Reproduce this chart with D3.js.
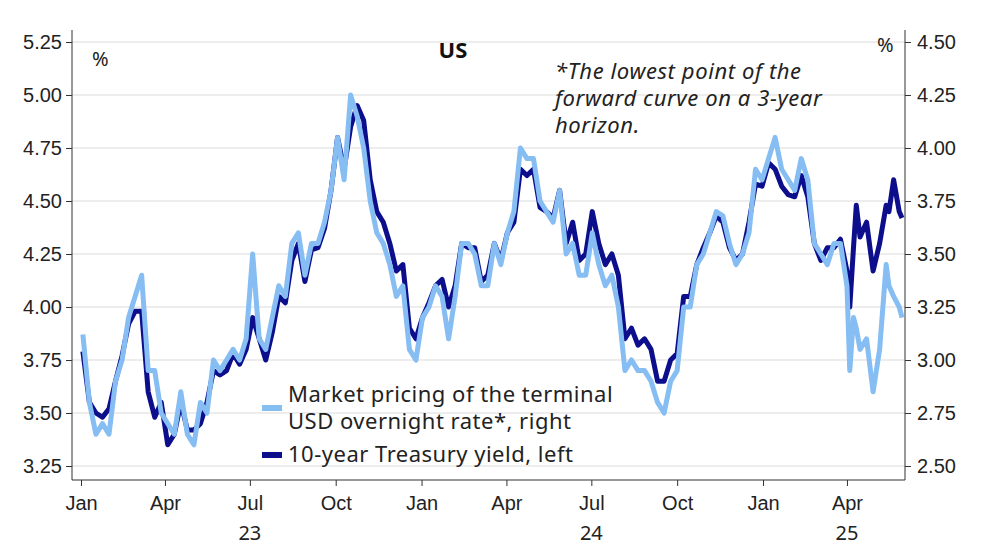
<!DOCTYPE html>
<html><head><meta charset="utf-8">
<script src="https://cdn.jsdelivr.net/npm/d3@7"></script>
<style>body{margin:0;background:#fff}svg{font-family:"Noto Sans",sans-serif}</style>
</head><body><svg id="c" width="1000" height="545"></svg>
<script>
// weekly dates
var dates = ["2023-01-03","2023-01-10","2023-01-17","2023-01-24","2023-01-31","2023-02-07","2023-02-14","2023-02-21","2023-02-28","2023-03-07","2023-03-14","2023-03-21","2023-03-28","2023-04-04","2023-04-11","2023-04-18","2023-04-25","2023-05-02","2023-05-09","2023-05-16","2023-05-23","2023-05-30","2023-06-06","2023-06-13","2023-06-20","2023-06-27","2023-07-04","2023-07-11","2023-07-18","2023-07-25","2023-08-01","2023-08-08","2023-08-15","2023-08-22","2023-08-29","2023-09-05","2023-09-12","2023-09-19","2023-09-26","2023-10-03","2023-10-10","2023-10-17","2023-10-24","2023-10-31","2023-11-07","2023-11-14","2023-11-21","2023-11-28","2023-12-05","2023-12-12","2023-12-19","2023-12-26",
"2024-01-02","2024-01-09","2024-01-16","2024-01-23","2024-01-30","2024-02-06","2024-02-13","2024-02-20","2024-02-27","2024-03-05","2024-03-12","2024-03-19","2024-03-26","2024-04-02","2024-04-09","2024-04-16","2024-04-23","2024-04-30","2024-05-07","2024-05-14","2024-05-21","2024-05-28","2024-06-04","2024-06-11","2024-06-18","2024-06-25","2024-07-02","2024-07-09","2024-07-16","2024-07-23","2024-07-30","2024-08-06","2024-08-13","2024-08-20","2024-08-27","2024-09-03","2024-09-10","2024-09-17","2024-09-24","2024-10-01","2024-10-08","2024-10-15","2024-10-22","2024-10-29","2024-11-05","2024-11-12","2024-11-19","2024-11-26","2024-12-03","2024-12-10","2024-12-17","2024-12-24","2024-12-31",
"2025-01-07","2025-01-14","2025-01-21","2025-01-28","2025-02-04","2025-02-11","2025-02-18","2025-02-25","2025-03-04","2025-03-11","2025-03-18","2025-03-25","2025-04-01","2025-04-04","2025-04-08","2025-04-11","2025-04-15","2025-04-22","2025-04-29","2025-05-06","2025-05-13","2025-05-16","2025-05-21","2025-05-27","2025-05-30"];

// 10-year Treasury yield, left axis
var yield10 = [3.79,3.55,3.50,3.48,3.52,3.65,3.77,3.92,3.98,3.98,3.60,3.48,3.55,3.35,3.40,3.55,3.42,3.42,3.45,3.55,3.70,3.68,3.70,3.78,3.73,3.80,3.95,3.85,3.75,3.88,4.05,4.02,4.22,4.30,4.12,4.27,4.28,4.37,4.55,4.80,4.65,4.85,4.95,4.88,4.60,4.45,4.40,4.30,4.17,4.20,3.90,3.85,
3.95,4.02,4.10,4.13,4.00,4.10,4.30,4.28,4.28,4.12,4.15,4.30,4.22,4.35,4.40,4.65,4.62,4.65,4.47,4.45,4.42,4.55,4.30,4.40,4.22,4.25,4.45,4.30,4.20,4.25,4.15,3.85,3.90,3.82,3.85,3.80,3.65,3.65,3.75,3.78,4.05,4.05,4.20,4.28,4.35,4.43,4.40,4.28,4.22,4.25,4.40,4.58,4.57,
4.68,4.65,4.57,4.53,4.52,4.62,4.52,4.30,4.22,4.28,4.28,4.32,4.17,4.00,4.28,4.48,4.33,4.40,4.17,4.30,4.48,4.45,4.60,4.45,4.42];

// market pricing of terminal USD overnight rate, right axis
var terminal = [3.12,2.80,2.65,2.70,2.65,2.90,3.00,3.20,3.30,3.40,2.95,2.95,2.75,2.70,2.65,2.85,2.65,2.60,2.80,2.75,3.00,2.95,3.00,3.05,3.00,3.10,3.50,3.10,3.05,3.20,3.35,3.30,3.55,3.60,3.40,3.55,3.55,3.65,3.80,4.05,3.85,4.25,4.15,4.00,3.75,3.60,3.55,3.45,3.30,3.35,3.05,3.00,
3.20,3.25,3.35,3.30,3.10,3.30,3.55,3.55,3.50,3.35,3.35,3.55,3.45,3.60,3.70,4.00,3.95,3.95,3.75,3.70,3.65,3.80,3.50,3.55,3.40,3.40,3.60,3.45,3.35,3.40,3.25,2.95,3.00,2.95,2.95,2.90,2.80,2.75,2.90,2.95,3.25,3.25,3.45,3.50,3.60,3.70,3.68,3.55,3.45,3.50,3.60,3.90,3.85,
3.95,4.05,3.90,3.85,3.80,3.95,3.85,3.55,3.50,3.45,3.55,3.55,3.35,2.95,3.20,3.15,3.05,3.10,2.85,3.05,3.45,3.35,3.30,3.25,3.20];

var leftTicks = [3.25,3.50,3.75,4.00,4.25,4.50,4.75,5.00,5.25];
var rightTicks = [2.50,2.75,3.00,3.25,3.50,3.75,4.00,4.25,4.50];
var monthTicks = ["2023-01-01","2023-04-01","2023-07-01","2023-10-01","2024-01-01","2024-04-01","2024-07-01","2024-10-01","2025-01-01","2025-04-01"];
var monthLabels = ["Jan","Apr","Jul","Oct","Jan","Apr","Jul","Oct","Jan","Apr"];
var yearLabels = {"2023-07-01":"23","2024-07-01":"24","2025-04-01":"25"};

var parse = d3.timeParse("%Y-%m-%d");
var svg = d3.select("#c");
var L = 72, R = 905, T = 30, B = 480;

var x = d3.scaleTime().domain([parse("2023-01-01"), parse("2025-01-01")]).range([81, 763]);
var yL = d3.scaleLinear().domain([3.25, 5.25]).range([466, 42]);
var yR = d3.scaleLinear().domain([2.50, 4.50]).range([466, 42]);

// grid
svg.append("g").selectAll("line").data(leftTicks).enter().append("line")
  .attr("x1", L).attr("x2", R).attr("y1", d => yL(d)).attr("y2", d => yL(d))
  .attr("stroke", "#dcdcdc").attr("stroke-width", 1.2);

var axL = svg.append("g").attr("transform", "translate(" + L + ",0)")
  .call(d3.axisLeft(yL).tickValues(leftTicks).tickFormat(d3.format(".2f")).tickSize(6).tickPadding(4));
var axR = svg.append("g").attr("transform", "translate(" + R + ",0)")
  .call(d3.axisRight(yR).tickValues(rightTicks).tickFormat(d3.format(".2f")).tickSize(6).tickPadding(6));
var axB = svg.append("g").attr("transform", "translate(0," + B + ")")
  .call(d3.axisBottom(x).tickValues(monthTicks.map(parse)).tickFormat((d, i) => monthLabels[i]).tickSize(6).tickPadding(6));
[axL, axR, axB].forEach(function(a){
  a.select(".domain").remove();
  a.selectAll("text").attr("font-size", 20).attr("fill", "#222");
  a.selectAll("line").attr("stroke", "#333");
});
axB.selectAll("text").attr("dy", "0.9em");
svg.append("line").attr("x1", L).attr("x2", L).attr("y1", T).attr("y2", B).attr("stroke", "#333");
svg.append("line").attr("x1", R).attr("x2", R).attr("y1", T).attr("y2", B).attr("stroke", "#333");
svg.append("line").attr("x1", L).attr("x2", R).attr("y1", B).attr("y2", B).attr("stroke", "#333");

Object.keys(yearLabels).forEach(function(k){
  svg.append("text").attr("x", x(parse(k))).attr("y", 540).attr("text-anchor", "middle")
    .attr("font-size", 20).attr("fill", "#222").text(yearLabels[k]);
});

var pts = dates.map((d, i) => ({t: parse(d), a: yield10[i], b: terminal[i]}));
var lineA = d3.line().x(d => x(d.t)).y(d => yL(d.a));
var lineB = d3.line().x(d => x(d.t)).y(d => yR(d.b));
svg.append("path").datum(pts).attr("d", lineA).attr("fill", "none")
  .attr("stroke", "#0c0e8c").attr("stroke-width", 5).attr("stroke-linejoin", "round");
svg.append("path").datum(pts).attr("d", lineB).attr("fill", "none")
  .attr("stroke", "#86bdf3").attr("stroke-width", 5).attr("stroke-linejoin", "round");

// texts
svg.append("text").attr("x", 453).attr("y", 58).attr("text-anchor", "middle")
  .attr("font-size", 22).attr("font-weight", "bold").attr("fill", "#111").text("US");
svg.append("text").attr("x", 92).attr("y", 66).attr("font-size", 20).attr("fill", "#222").text("%");
svg.append("text").attr("x", 877).attr("y", 52).attr("font-size", 20).attr("fill", "#222").text("%");
["*The lowest point of the", "forward curve on a 3-year", "horizon."].forEach(function(s, i){
  svg.append("text").attr("x", 555).attr("y", 79 + i * 27).attr("font-size", 22)
    .attr("letter-spacing", 0.6).attr("font-style", "italic").attr("fill", "#222").text(s);
});

// legend
function legText(s, y){
  svg.append("text").attr("x", 288).attr("y", y).attr("font-size", 22)
    .attr("letter-spacing", 0.5).attr("fill", "#222").text(s);
}
svg.append("line").attr("x1", 262).attr("x2", 282).attr("y1", 408).attr("y2", 408)
  .attr("stroke", "#86bdf3").attr("stroke-width", 6);
legText("Market pricing of the terminal", 402);
legText("USD overnight rate*, right", 429);
svg.append("line").attr("x1", 262).attr("x2", 282).attr("y1", 455).attr("y2", 455)
  .attr("stroke", "#0c0e8c").attr("stroke-width", 6);
legText("10-year Treasury yield, left", 462);
</script></body></html>
